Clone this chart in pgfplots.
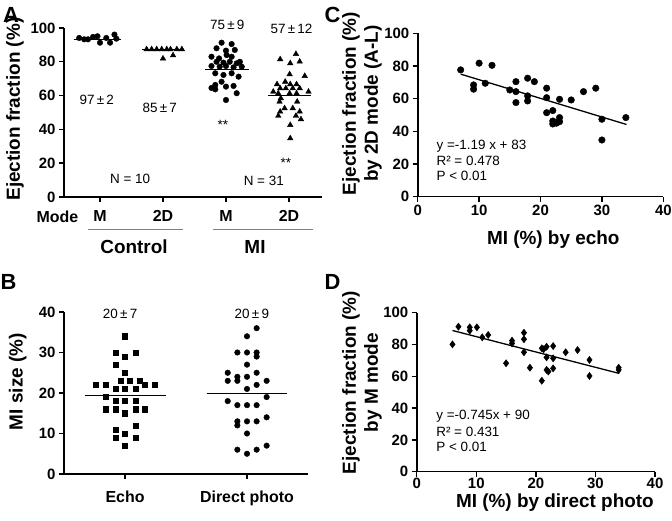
\documentclass[border=0pt]{standalone}
\usepackage{fontspec}
\setmainfont{Liberation Sans}
\usepackage{pgfplots}
\pgfplotsset{compat=1.18}
\newcommand{\fsz}[1]{\fontsize{#1}{#1}\selectfont}
\pgfplotsset{
  prism/.style={
    scale only axis,
    axis lines=left,
    axis line style={-, line width=1.6bp},
    every tick/.style={line width=1.4bp, black},
    tick align=outside,
    major tick length=5bp,
    ticklabel style={font=\bfseries\fsz{15}},
    /pgf/number format/assume math mode=true,
    label style={font=\bfseries\fontsize{19}{22}\selectfont},
    clip=false,
  }
}
\begin{document}
\begin{tikzpicture}[x=1bp,y=1bp]
\path[use as bounding box] (0,0) rectangle (672,521);

% ---------------- Panel A ----------------
\begin{axis}[prism, at={(64bp,324bp)}, anchor=south west,
  width=258bp, height=169bp,
  xmin=0.429, xmax=4.524, ymin=0, ymax=100,
  ytick={0,20,40,60,80,100},
  xtick={1,2,3,4}, xticklabels={M,2D,M,2D},
  xticklabel style={font=\bfseries\fsz{16}, yshift=-5bp},
  ylabel={Ejection fraction (\%)},
  ylabel style={at={(axis description cs:-0.19,0.52)},anchor=center},
]
\addplot[only marks, mark=*, mark size=2.8bp, black] coordinates {
(0.67,94.1)(0.75,93.3)(0.81,93.3)(0.89,94.7)(0.96,95.1)(1.00,91.3)(1.10,94.1)(1.16,91.3)(1.23,96.1)(1.26,93.7)};
\addplot[black, line width=1bp] coordinates {(0.59,93.3)(1.33,93.3)};
\addplot[only marks, mark=triangle*, mark size=3.2bp, black] coordinates {
(1.74,87.4)(1.82,87.4)(1.90,87.4)(1.98,87.4)(2.06,87.4)(2.12,87.4)(2.22,87.4)(2.30,87.4)(2.00,81.9)(2.16,83.8)};
\addplot[black, line width=1bp] coordinates {(1.66,87.4)(2.34,87.4)};
\addplot[only marks, mark=*, mark size=2.8bp, black] coordinates {
(2.93,91.3)(3.09,90.5)(2.85,88)(3.00,86.6)(3.14,87)(3.01,84)(2.77,83)(2.89,82)(3.09,83)(3.22,80)(2.85,80)(2.96,79.5)(3.06,80)(3.17,79.1)(2.77,77.5)(2.90,77.1)(3.00,77.5)(3.12,76.7)(3.25,77.1)(2.83,73.2)(2.96,72.2)(3.09,73.2)(3.20,71.2)(2.93,68.2)(2.83,66.3)(2.83,63.7)(3.00,65.3)(3.12,65.7)(3.17,61.4)(3.00,57.4)(2.77,64.5)};
\addplot[black, line width=1bp] coordinates {(2.67,75.5)(3.36,75.5)};
\addplot[only marks, mark=triangle*, mark size=3.2bp, black] coordinates {
(4.11,84.6)(3.86,81.5)(4.17,80.1)(4.02,79.1)(4.01,72.6)(4.25,71.6)(3.94,68.2)(3.81,66.7)(4.02,66.7)(4.12,66.7)(3.86,64.3)(3.95,64.3)(4.06,64.3)(4.17,64.3)(3.75,62.3)(4.31,62.3)(3.83,61.3)(4.01,61.3)(4.12,61.3)(3.87,58.4)(3.85,56.4)(4.13,56.4)(3.93,52.5)(4.06,52.5)(3.86,50.5)(4.17,50.5)(3.83,48)(4.11,48)(4.19,46)(4.02,42.6)(4.02,34.7)};
\addplot[black, line width=1bp] coordinates {(3.67,60.3)(4.35,60.3)};
\node[font=\fsz{13.5}] at (axis cs:0.95,57.4) {97\,±\,2};
\node[font=\fsz{13.5}] at (axis cs:1.95,52.7) {85\,±\,7};
\node[font=\fsz{13.5}] at (axis cs:3.02,101.8) {75\,±\,9};
\node[font=\fsz{13.5}] at (axis cs:4.04,99.2) {57\,±\,12};
\node[font=\fsz{13.5}] at (axis cs:2.95,42.6) {**};
\node[font=\fsz{13.5}] at (axis cs:3.95,20.3) {**};
\node[font=\fsz{13.5}] at (axis cs:1.48,11) {N = 10};
\node[font=\fsz{13.5}] at (axis cs:3.6,9.5) {N = 31};
\end{axis}
\node[font=\bfseries\fsz{16}] at (57.5,304) {Mode};
\draw[gray, line width=0.8bp] (87.7,292) -- (182.7,292);
\draw[gray, line width=0.8bp] (213,292) -- (313,292);
\node[font=\bfseries\fsz{19}] at (134,274) {Control};
\node[font=\bfseries\fsz{19}] at (255,274) {MI};

% ---------------- Panel B ----------------
\begin{axis}[prism, at={(64bp,47bp)}, anchor=south west,
  width=244bp, height=162bp,
  xmin=0.5, xmax=2.5, ymin=0, ymax=40,
  ytick={0,10,20,30,40},
  xtick={1,2}, xticklabels={Echo,Direct photo},
  xticklabel style={font=\bfseries\fsz{16}, yshift=-8bp},
  ylabel={MI size (\%)},
  ylabel style={at={(axis description cs:-0.19,0.57)},anchor=center},
]
\addplot[only marks, mark=square*, mark size=2.6bp, black] coordinates {
(1.00,34)(0.926,30)(1.00,29)(1.087,30)(0.926,27)(1.00,25)(0.762,22)(0.844,22)(0.964,23)(1.041,23)(1.123,23)(1.164,22)(1.243,22)(0.926,21)(1.00,21)(1.087,21)(0.844,19)(0.926,18)(1.00,18)(1.087,18)(0.844,16)(0.926,16)(1.00,15)(1.087,16)(1.164,16)(0.926,11)(1.087,12)(0.926,9)(1.00,10)(1.087,9)(1.00,7)};
\addplot[black, line width=1bp] coordinates {(0.67,19.4)(1.34,19.4)};
\addplot[only marks, mark=*, mark size=2.8bp, black] coordinates {
(2.079,36)(2,34)(1.921,30)(2,30)(2.079,30)(2.079,29)(2,27)(1.842,25)(2.079,25)(1.842,23)(1.921,24)(1.921,23)(2,24)(2.161,23)(2.079,22)(2,21)(2.161,19)(1.842,18)(1.921,17)(2,17)(2.079,17)(2.161,14)(1.921,13)(1.921,12)(2,13)(2.079,13)(2,10)(1.921,6)(2,5)(2.079,6)(2.161,7)};
\addplot[black, line width=1bp] coordinates {(1.67,19.8)(2.33,19.8)};
\node[font=\fsz{13.5}] at (axis cs:0.96,39.6) {20\,±\,7};
\node[font=\fsz{13.5}] at (axis cs:2.04,39.6) {20\,±\,9};
\end{axis}

% ---------------- Panel C ----------------
\begin{axis}[prism, at={(417.7bp,324.3bp)}, anchor=south west,
  width=245.6bp, height=163.4bp,
  xmin=0, xmax=40, ymin=0, ymax=100,
  xtick={0,10,20,30,40}, ytick={0,20,40,60,80,100},
  xlabel={MI (\%) by echo},
  xlabel style={at={(axis description cs:0.552,0)},anchor=center,yshift=-43bp},
  ylabel={Ejection fraction (\%)\\by 2D mode (A-L)},
  ylabel style={align=center, at={(axis description cs:-0.227,0.57)},anchor=center},
]
\addplot[only marks, mark=*, mark size=3.3bp, black] coordinates {
(7,77.6)(10,81.7)(12.1,80.4)(9.1,68.4)(9.1,65.8)(11,69.4)(15,65.3)(16,70.4)(16,64.3)(16,57.6)(17.9,72.5)(19,70.4)(17.9,61.7)(17.9,58.6)(21,66.4)(21,60.6)(21,51.4)(22,52.7)(22,46.3)(22,44.5)(23.1,59.6)(23.1,48.4)(23.1,45.9)(22.6,45)(25,59.2)(27,64.3)(29,66.4)(30,47.4)(30,34.7)(33.9,48.4)(22.5,45.5)};
\addplot[black, line width=1.3bp] coordinates {(7,75)(34,44.2)};
\node[font=\fsz{13.5}, anchor=west] at (axis cs:2.5,31.2) {y =-1.19 x + 83};
\node[font=\fsz{13.5}, anchor=west] at (axis cs:2.5,22) {R² = 0.478};
\node[font=\fsz{13.5}, anchor=west] at (axis cs:2.5,12.8) {P < 0.01};
\end{axis}

% ---------------- Panel D ----------------
\begin{axis}[prism, at={(416.7bp,49.3bp)}, anchor=south west,
  width=238.3bp, height=159bp,
  xmin=0, xmax=40, ymin=0, ymax=100,
  xtick={0,10,20,30,40}, ytick={0,20,40,60,80,100},
  xticklabel style={inner sep=1bp},
  xlabel={MI (\%) by direct photo},
  xlabel style={at={(axis description cs:0.58,0)},anchor=center,yshift=-31bp,inner sep=0pt},
  ylabel={Ejection fraction (\%)\\by M mode},
  ylabel style={align=center, at={(axis description cs:-0.23,0.56)},anchor=center},
]
\addplot[only marks, mark=diamond*, mark size=3.6bp, black] coordinates {
(6,80.1)(7,91.2)(8.9,90.8)(8.9,88.7)(10.1,90.8)(11,84.5)(12,86)(15,68.2)(16,82.4)(16,80.7)(18,87.4)(18,83.3)(18,75.1)(19,65.4)(21,57.2)(21,77.6)(21.8,78.6)(22.9,79)(21.8,71.9)(21.8,64)(22.1,63)(22.9,71.3)(22.9,65)(25,75.1)(27,76.5)(29,70.3)(29,60.2)(33.9,65.4)(33.9,64)(21.3,77)};
\addplot[black, line width=1.3bp] coordinates {(6,88.8)(34,61.8)};
\node[font=\fsz{13.5}, anchor=west] at (axis cs:2.7,34.6) {y =-0.745x + 90};
\node[font=\fsz{13.5}, anchor=west] at (axis cs:2.7,25.2) {R² = 0.431};
\node[font=\fsz{13.5}, anchor=west] at (axis cs:2.7,15.7) {P < 0.01};
\end{axis}

% panel letters
\node[font=\bfseries\fsz{22}] at (11,506.5) {A};
\node[font=\bfseries\fsz{22}] at (8.5,239.5) {B};
\node[font=\bfseries\fsz{22}] at (332.5,506.5) {C};
\node[font=\bfseries\fsz{22}] at (332.5,239.5) {D};
\end{tikzpicture}
\end{document}
